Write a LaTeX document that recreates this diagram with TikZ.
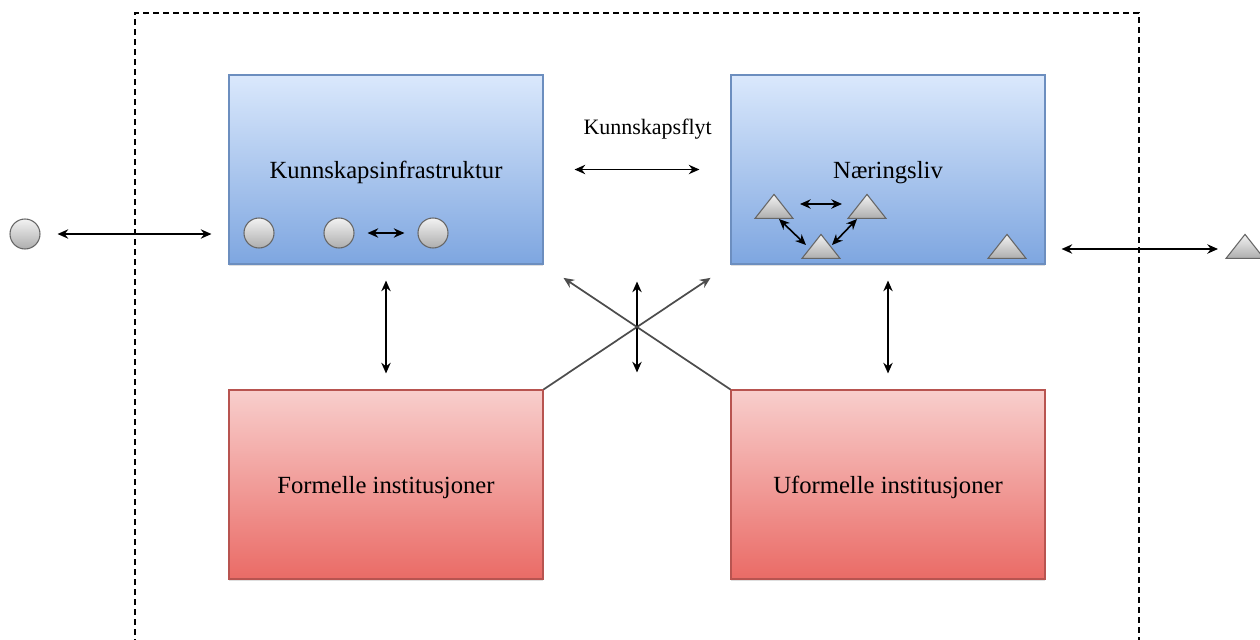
\documentclass[tikz,border=0pt]{standalone}
\usepackage{fontspec}
\setmainfont{Liberation Serif}
\usepackage{xcolor}
\usetikzlibrary{arrows.meta,positioning,calc,shapes.geometric,shadows}
\definecolor{blueTop}{HTML}{DAE8FC}
\definecolor{blueBot}{HTML}{7EA6E0}
\definecolor{blueEdge}{HTML}{6C8EBF}
\definecolor{redTop}{HTML}{F8CECC}
\definecolor{redBot}{HTML}{EA6B66}
\definecolor{redEdge}{HTML}{B85450}
\definecolor{actorEdge}{HTML}{666666}
\definecolor{crossGray}{HTML}{4D4D4D}

\begin{document}
\begin{tikzpicture}[
  x=0.75pt,y=-0.75pt,
  box/.style={draw,line width=0.8pt,minimum width=235.5pt,minimum height=141.75pt,align=center,
    text height=12.75pt,text depth=0pt,
    font=\fontsize{18.5}{22}\selectfont,drop shadow={shadow xshift=0pt,shadow yshift=-1.5pt,opacity=0.25}},
  knowbox/.style={box,draw=blueEdge,top color=blueTop,bottom color=blueBot},
  instbox/.style={box,draw=redEdge,top color=redTop,bottom color=redBot},
  actor/.style={circle,draw=actorEdge,line width=0.8pt,minimum size=22.5pt,inner sep=0pt,
    top color=black!5,bottom color=black!32},
  firm/.style={isosceles triangle,isosceles triangle stretches,shape border rotate=90,anchor=apex,
    draw=actorEdge,line width=0.8pt,minimum width=28.5pt,minimum height=18pt,inner sep=0pt,
    top color=black!5,bottom color=black!32},
  arr/.style={{Stealth[length=8pt,width=7pt]}-{Stealth[length=8pt,width=7pt]},line width=1.2pt},
  onearr/.style={-{Stealth[length=8pt,width=7pt]},line width=1.3pt,draw=crossGray},
  frame/.style={dashed,dash pattern=on 4.5pt off 3pt,line width=1pt}
]
  \useasboundingbox (0,0) rectangle (1260,639);
  \draw[frame] (135,645) -- (135,13) -- (1139,13) -- (1139,645);

  \node[knowbox] (ki) at (386,169.5) {Kunnskapsinfrastruktur};
  \node[knowbox] (ne) at (888,169.5) {Næringsliv};
  \node[instbox] (fi) at (386,484.5) {Formelle institusjoner};
  \node[instbox] (ui) at (888,484.5) {Uformelle institusjoner};

  \node[actor] (c0) at (25,234) {};
  \node[actor] (c1) at (259,233) {};
  \node[actor] (c2) at (339,233) {};
  \node[actor] (c3) at (433,233) {};

  \node[firm] (t1) at (774,193) {};
  \node[firm] (t2) at (867,193) {};
  \node[firm] (t3) at (821,233) {};
  \node[firm] (t4) at (1007,233) {};
  \node[firm] (t5) at (1245,233) {};

  \coordinate (upmid) at ($(ki.south east)!0.5!(ne.south west)$);
  \coordinate (lowmid) at ($(fi.north east)!0.5!(ui.north west)$);
  \coordinate (rightend) at ($(t5.apex)+(-27,16)$);

  \draw[arr,shorten <=12.75pt,shorten >=12.75pt] (c0) -- (c0 -| ki.west);
  \draw[arr,shorten <=9.75pt,shorten >=9.75pt] (c2) -- (c3);
  \draw[arr] ($(t1.apex)+(26,11)$) -- ($(t2.apex)+(-25,11)$);
  \draw[arr] ($(t1.apex)+(5,26)$) -- ($(t3.apex)+(-15,12)$);
  \draw[arr] ($(t2.apex)+(-10,26)$) -- ($(t3.apex)+(11,12)$);
  \draw[arr] ($(rightend -| ne.east)+(16,0)$) -- (rightend);

  \draw[arr,shorten <=23.25pt,shorten >=23.25pt] (ki) -- node[above=19pt,xshift=8pt,font=\fontsize{16.5}{20}\selectfont]{Kunnskapsflyt} (ne);
  \draw[arr,shorten <=12pt,shorten >=12pt] (ki) -- (fi);
  \draw[arr,shorten <=12pt,shorten >=12pt] (ne) -- (ui);
  \draw[arr,shorten <=12.75pt,shorten >=12.75pt] (upmid) -- (lowmid);
  \draw[onearr,shorten >=18pt] (fi.north east) -- (ne.south west);
  \draw[onearr,shorten >=18pt] (ui.north west) -- (ki.south east);
\end{tikzpicture}
\end{document}
